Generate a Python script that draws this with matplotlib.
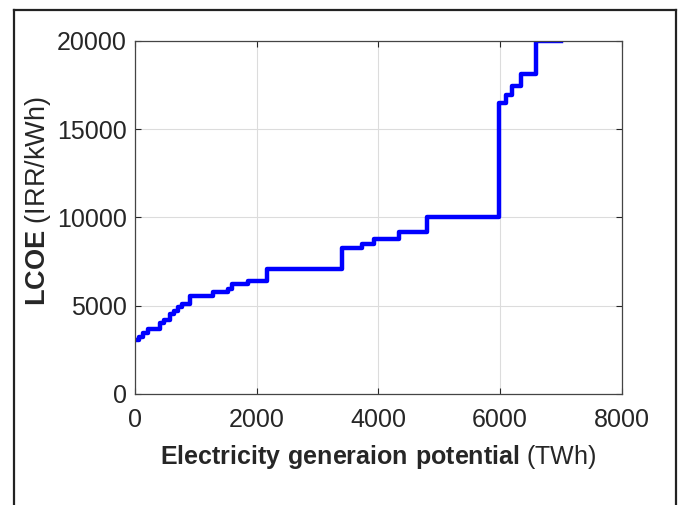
import matplotlib.pyplot as plt
from matplotlib.lines import Line2D

plt.rcParams['font.family'] = ['Liberation Sans', 'DejaVu Sans']
plt.rcParams['mathtext.fontset'] = 'custom'
plt.rcParams['mathtext.rm'] = 'Liberation Sans'
plt.rcParams['mathtext.bf'] = 'Liberation Sans:bold'

# supply curve steps: cumulative generation (TWh) where each LCOE level starts
gen = [0, 60, 130, 220, 410, 480, 580, 640, 710, 780, 900, 1280, 1530, 1600,
       1860, 2170, 3400, 3730, 3930, 4340, 4800, 5980, 6100, 6200, 6340, 6590, 7000]
lcoe = [3050, 3250, 3450, 3700, 4000, 4200, 4550, 4700, 4900, 5100, 5550, 5750,
        5950, 6200, 6400, 7050, 8250, 8500, 8750, 9200, 10050, 16500, 16950,
        17450, 18150, 20000, 20000]

xticks = [0, 2000, 4000, 6000, 8000]
yticks = [0, 5000, 10000, 15000, 20000]

fig = plt.figure(figsize=(6.78, 5.05), dpi=100)
ax = fig.add_axes([0.199, 0.22, 0.718, 0.699])

ax.step(gen, lcoe, where='post', color='#0000ff', lw=3.2)

ax.set_xlim(0, 8000)
ax.set_ylim(0, 20000)
ax.set_xticks(xticks)
ax.set_yticks(yticks)
ax.grid(True, color='#dcdcdc', lw=0.8)
ax.set_axisbelow(True)
ax.tick_params(direction='in', length=4, top=True, right=True,
               labelsize=18, colors='#262626')
ax.tick_params(axis='x', pad=10)
ax.tick_params(axis='y', pad=6)
for s in ax.spines.values():
    s.set_color('#444444')
    s.set_linewidth(0.9)

ax.set_xlabel(r'$\bf{Electricity\ generaion\ potential}$ (TWh)',
              fontsize=18, color='#262626', labelpad=8)
ax.set_ylabel(r'$\bf{LCOE}$ (IRR/kWh)', fontsize=19.5, color='#262626',
              labelpad=3, y=0.545)

# frame around the figure
x0, x1, ytop = 14 / 678, 676 / 678, 1 - 10 / 505
for xs, ys in [([x0, x0], [-0.01, ytop]), ([x0, x1], [ytop, ytop]), ([x1, x1], [ytop, -0.01])]:
    fig.add_artist(Line2D(xs, ys, transform=fig.transFigure, color='#222222', lw=1.6))

fig.savefig('out.png', dpi=100)
